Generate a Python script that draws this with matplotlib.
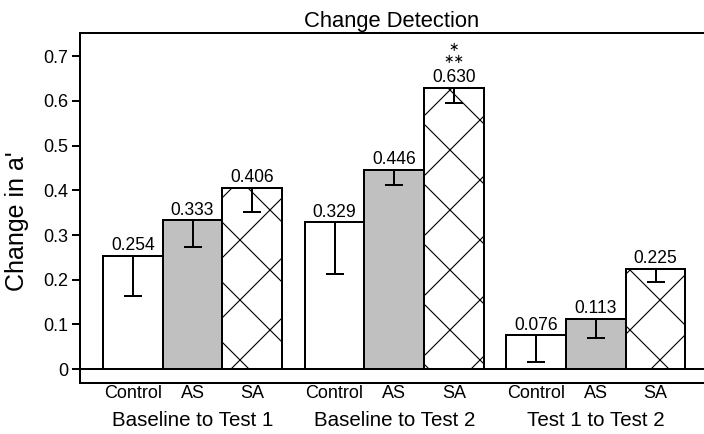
import numpy as np
import matplotlib
matplotlib.use('Agg')
import matplotlib.pyplot as plt

# values
groups = ['Baseline to Test 1', 'Baseline to Test 2', 'Test 1 to Test 2']
conditions = ['Control', 'AS', 'SA']
control = [0.254, 0.329, 0.076]
as_vals = [0.333, 0.446, 0.113]
sa_vals = [0.406, 0.630, 0.225]
# error bars only point downward
control_err = [0.091, 0.117, 0.060]
as_err = [0.060, 0.035, 0.044]
sa_err = [0.055, 0.035, 0.030]
yticks = [0, 0.1, 0.2, 0.3, 0.4, 0.5, 0.6, 0.7]
ytick_labels = ['0', '0.1', '0.2', '0.3', '0.4', '0.5', '0.6', '0.7']

plt.rcParams['font.family'] = ['Liberation Sans', 'DejaVu Sans']
plt.rcParams['hatch.linewidth'] = 0.45

DPI = 180  # big dpi so the 'x' hatch gets wide diamonds
fig = plt.figure(figsize=(704 / DPI, 434 / DPI), dpi=DPI)
ax = fig.add_axes([80 / 704, 51 / 434, 624 / 704, 350 / 434])

stride = 3.38
group_x = np.arange(len(groups)) * stride
series = [control, as_vals, sa_vals]
errors = [control_err, as_err, sa_err]
faces = ['white', '#c0c0c0', 'white']
hatches = [None, None, 'x']

for i in range(3):
    xs = group_x + i + 0.5
    ax.bar(xs, series[i], width=1.0, color=faces[i], edgecolor='black',
           linewidth=0.8, hatch=hatches[i], zorder=2)
    lower = np.array(errors[i])
    ax.errorbar(xs, series[i], yerr=[lower, np.zeros_like(lower)], fmt='none',
                ecolor='black', elinewidth=0.8, capsize=3.6, capthick=0.8, zorder=3)
    for x, v in zip(xs, series[i]):
        ax.annotate('%.3f' % v, (x, v), xytext=(0, 4), textcoords='offset points',
                    ha='center', va='center', fontsize=7)

# significance marks above the SA bar of the second comparison
ax.annotate('\u2217\n\u2217\u2217', (group_x[1] + 2.5, sa_vals[1]), xytext=(0, 8.6),
            textcoords='offset points', ha='center', va='bottom', fontsize=5,
            linespacing=1.05)

ax.axhline(0, color='black', linewidth=0.8, zorder=4)

ax.set_xlim(-0.385, 10.07)
ax.set_ylim(-0.031, 0.752)
ax.set_yticks(yticks, ytick_labels, fontsize=7.2)
ax.tick_params(axis='y', length=3.2, width=0.8, pad=1.5)
ax.set_xticks([])

for g, x0 in enumerate(group_x):
    for i, c in enumerate(conditions):
        ax.text(x0 + i + 0.5, -0.029, c, transform=ax.get_xaxis_transform(),
                ha='center', va='center', fontsize=7.2)
    ax.text(x0 + 1.5, -0.106, groups[g], transform=ax.get_xaxis_transform(),
            ha='center', va='center', fontsize=8.2)

ax.spines['right'].set_visible(False)
for s in ['left', 'top', 'bottom']:
    ax.spines[s].set_linewidth(0.8)

ax.set_title('Change Detection', fontsize=8.8, pad=2.4)
fig.text(17 / 704, 1 - 221 / 434, "Change in a'", rotation=90, ha='center', va='center',
         fontsize=10)

fig.savefig('out.png', dpi=DPI)
